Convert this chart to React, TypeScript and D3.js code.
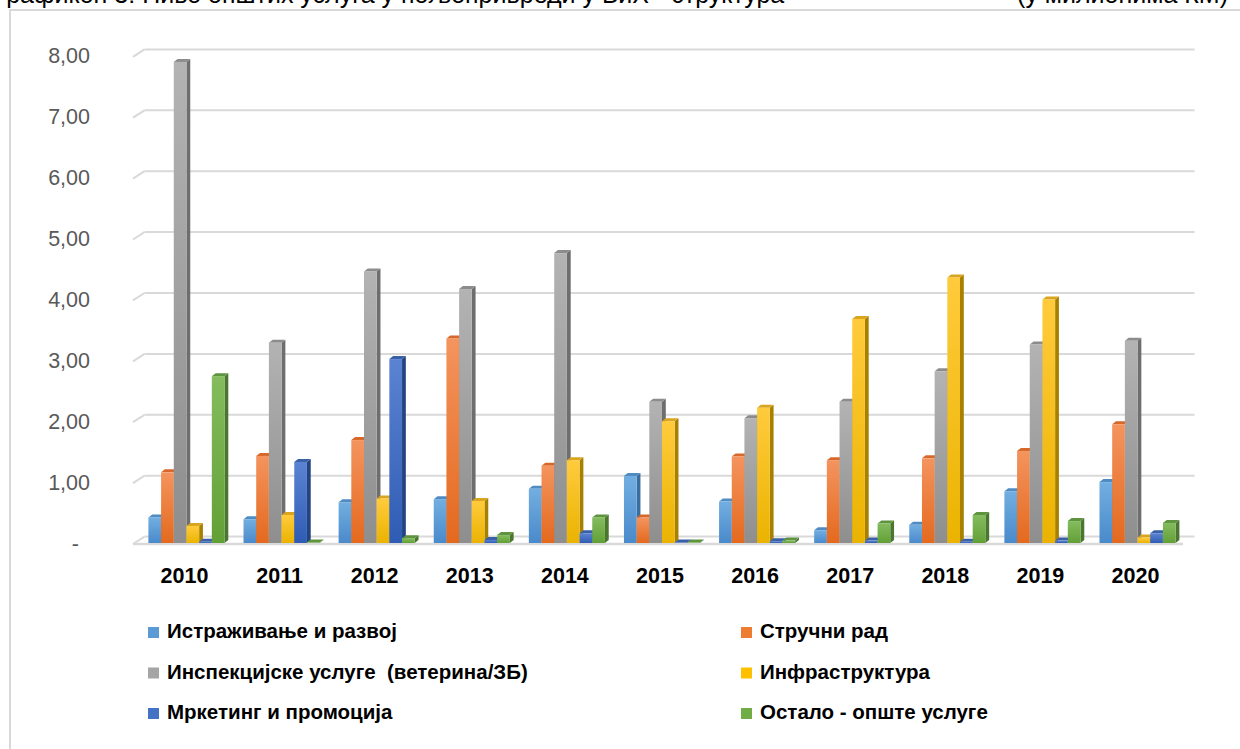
import React from "react";
import * as d3 from "d3";

// years on the x axis
const years = ["2010", "2011", "2012", "2013", "2014", "2015", "2016", "2017", "2018", "2019", "2020"];

const seriesNames = [
  "Истраживање и развој",
  "Стручни рад",
  "Инспекцијске услуге  (ветерина/ЗБ)",
  "Инфраструктура",
  "Мркетинг и промоција",
  "Остало - опште услуге",
];

// values in millions KM
const research = [0.42, 0.39, 0.67, 0.72, 0.89, 1.1, 0.68, 0.21, 0.3, 0.85, 1.0];
const expertWork = [1.16, 1.43, 1.69, 3.36, 1.27, 0.42, 1.42, 1.36, 1.39, 1.51, 1.95];
const inspection = [7.9, 3.29, 4.46, 4.17, 4.76, 2.32, 2.05, 2.32, 2.82, 3.26, 3.32];
const infrastructure = [0.28, 0.46, 0.73, 0.69, 1.36, 2.0, 2.22, 3.68, 4.36, 4.0, 0.09];
const marketing = [0.02, 1.33, 3.02, 0.05, 0.16, 0.01, 0.03, 0.04, 0.02, 0.04, 0.16];
const other = [2.74, 0.01, 0.08, 0.13, 0.42, 0.01, 0.04, 0.32, 0.46, 0.36, 0.33];

const yTicks = [0, 1, 2, 3, 4, 5, 6, 7, 8];
const yTickLabels = ["-", "1,00", "2,00", "3,00", "4,00", "5,00", "6,00", "7,00", "8,00"];

const series = [research, expertWork, inspection, infrastructure, marketing, other];

// front-top, front-bottom, side, top face
const palette = [
  { light: "#72AEE0", dark: "#4A8ACB", side: "#3A6E9F", top: "#4F8CC4" },
  { light: "#F4945E", dark: "#E4691E", side: "#B05020", top: "#D8672A" },
  { light: "#B3B3B3", dark: "#8E8E8E", side: "#6E6E6E", top: "#8C8C8C" },
  { light: "#FFCB3C", dark: "#EBB300", side: "#A88000", top: "#D9A520" },
  { light: "#5B83D2", dark: "#2F5CB4", side: "#24447F", top: "#3A60A8" },
  { light: "#84BC5E", dark: "#62A036", side: "#4A7630", top: "#5E9440" },
];

const legendColors = ["#5B9BD5", "#ED7D31", "#A5A5A5", "#FFC000", "#4472C4", "#70AD47"];

const W = 1240;
const H = 749;
const depthX = 11.5; // floor depth
const depthY = 7.4;
const barDX = 3.8; // bar depth
const barDY = 3;

export default function App() {
  const x = d3
    .scaleBand<string>()
    .domain(years)
    .range([137, 1187])
    .paddingInner(0.2)
    .paddingOuter(0.12);

  const yFront = d3.scaleLinear().domain([0, 8]).range([544, 56.8]);
  const yBar = d3.scaleLinear().domain([0, 8]).range([543, 55.8]);

  const bw = x.bandwidth() / series.length;
  const floorLeft = 133;
  const floorRight = 1183;

  const font = "'Liberation Sans', Arial, sans-serif";

  return (
    <svg
      width={W}
      height={H}
      style={{ position: "absolute", left: 0, top: 0, background: "#fff" }}
    >
      <defs>
        {palette.map((p, i) => (
          <linearGradient key={i} id={`g${i}`} x1="0" y1="0" x2="0" y2="1">
            <stop offset="0" stopColor={p.light} />
            <stop offset="1" stopColor={p.dark} />
          </linearGradient>
        ))}
      </defs>

      {/* title, mostly cut off by the top edge like in the source */}
      <text x={-6} y={3} fontFamily={font} fontSize={25} fill="#000">
        Графикон 3: Ниво општих услуга у пољопривреди у БиХ - структура
      </text>
      <text x={1228} y={3} fontFamily={font} fontSize={25} fill="#000" textAnchor="end">
        (у милионима КМ)
      </text>

      {/* chart frame */}
      <rect x={10} y={10} width={W} height={H} fill="none" stroke="#D9D9D9" strokeWidth={2} />

      {/* gridlines with 3D wall */}
      {yTicks.map((t) => {
        const yf = yFront(t);
        return (
          <g key={t} stroke="#D9D9D9" strokeWidth={2} fill="none">
            <line x1={floorLeft} y1={yf} x2={floorLeft + depthX} y2={yf - depthY} />
            <line x1={floorLeft + depthX} y1={yf - depthY} x2={floorRight + depthX} y2={yf - depthY} />
          </g>
        );
      })}
      <line
        x1={floorLeft}
        y1={yFront(0)}
        x2={floorRight}
        y2={yFront(0)}
        stroke="#D9D9D9"
        strokeWidth={2.5}
      />

      {/* y axis labels */}
      {yTicks.map((t, i) => (
        <text
          key={t}
          x={90}
          dx={t === 0 ? -11 : 0}
          y={yFront(t) + 1}
          dominantBaseline="middle"
          textAnchor="end"
          fontFamily={font}
          fontSize={21.5}
          fill="#595959"
        >
          {yTickLabels[i]}
        </text>
      ))}

      {/* bars */}
      {years.map((yr, yi) => (
        <g key={yr}>
          {series.map((vals, si) => {
            const v = vals[yi];
            const x0 = (x(yr) as number) + si * bw;
            const x1 = x0 + bw;
            const yt = yBar(v);
            const yb = yBar(0);
            const p = palette[si];
            return (
              <g key={si}>
                <polygon
                  points={`${x1},${yt} ${x1 + barDX},${yt - barDY} ${x1 + barDX},${yb - barDY} ${x1},${yb}`}
                  fill={p.side}
                />
                <polygon
                  points={`${x0},${yt} ${x0 + barDX},${yt - barDY} ${x1 + barDX},${yt - barDY} ${x1},${yt}`}
                  fill={p.top}
                />
                <rect x={x0} y={yt} width={bw} height={Math.max(0, yb - yt)} fill={`url(#g${si})`} />
              </g>
            );
          })}
        </g>
      ))}

      {/* x axis labels */}
      {years.map((yr) => (
        <text
          key={yr}
          x={(x(yr) as number) + x.bandwidth() / 2 - 2}
          y={577}
          dominantBaseline="middle"
          textAnchor="middle"
          fontFamily={font}
          fontSize={21.5}
          fontWeight="bold"
          fill="#000"
        >
          {yr}
        </text>
      ))}

      {/* legend */}
      {seriesNames.map((name, i) => {
        const col = i % 2;
        const row = Math.floor(i / 2);
        const lx = col === 0 ? 148 : 741;
        const ly = 633 + row * 40.5;
        return (
          <g key={name}>
            <rect x={lx} y={ly - 6} width={11} height={11} fill={legendColors[i]} />
            <text
              x={lx + 19}
              y={ly}
              dominantBaseline="middle"
              fontFamily={font}
              fontSize={20.5}
              fontWeight="bold"
              fill="#000"
              style={{ whiteSpace: "pre" }}
            >
              {name}
            </text>
          </g>
        );
      })}
    </svg>
  );
}
